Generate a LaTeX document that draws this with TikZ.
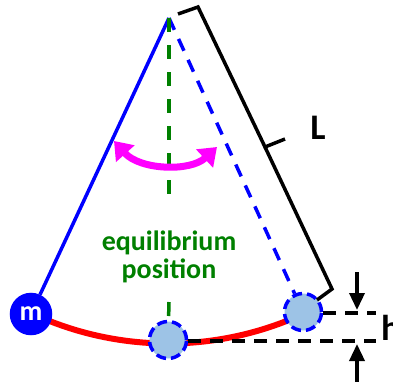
\documentclass[tikz,border=0pt]{standalone}
\usepackage{fontspec}
\setmainfont{Carlito}
\usetikzlibrary{arrows.meta}
\definecolor{eqgreen}{RGB}{0,128,0}
\definecolor{massfill}{RGB}{157,195,230}
\definecolor{mag}{RGB}{255,0,255}
\begin{document}
\begin{tikzpicture}[x=1pt,y=-1pt,
  massbase/.style={circle, minimum size=37pt, inner sep=0pt, line width=3.5pt},
  realmass/.style={massbase, minimum size=39pt, draw=blue, fill=blue, text=white, font=\bfseries\fontsize{28}{28}\selectfont},
  ghostmass/.style={massbase, draw=blue, fill=massfill, dash pattern=on 10pt off 5pt},
  string/.style={blue, line width=3.5pt},
  ghoststring/.style={blue, line width=3.5pt, dash pattern=on 13pt off 10pt},
  eqline/.style={eqgreen, line width=3.5pt, dash pattern=on 14pt off 13pt},
  bracket/.style={black, line width=3.5pt, line join=miter},
  hline/.style={black, line width=3.5pt, dash pattern=on 13pt off 9pt},
  harrow/.style={black, line width=3.5pt, -{Triangle[length=17pt,width=15pt]}},
  swing/.style={mag, line width=7pt, {Triangle[length=17pt,width=24pt]}-{Triangle[length=17pt,width=24pt]}},
  bigtext/.style={font=\bfseries\fontsize{36}{36}\selectfont},
]
\useasboundingbox (0,0) rectangle (393,381);
\clip (0,0) rectangle (393,381);

% pivot and key positions
\coordinate (pivot) at (169,18);
\coordinate (g1) at (169,205);
\coordinate (g2) at (169,302);

% red arc (drawn first, behind masses)
\draw[red, line width=6pt] (31,313) arc[start angle=115.1, end angle=64.5, radius=323];

% masses
\node[realmass] (m) at (31,314) {m};
\node[ghostmass] (bot) at (168,340) {};
\node[ghostmass] (rt) at (303,312) {};

% strings
\draw[string] (pivot) -- (m);
\draw[ghoststring] (pivot) -- (rt);

% equilibrium line and label
\draw[eqline] (pivot) -- (g1);
\draw[eqline] (g2) -- (bot);
\node[eqgreen, font=\bfseries\fontsize{28}{28}\selectfont, align=center] (eq) at (169,257) {equilibrium\\position};

% swing arrow
\coordinate (sw1) at (114,141);
\coordinate (sw2) at (217,147);
\draw[swing] (sw1) .. controls (140,170) and (190,172) .. (sw2);

% length bracket
\coordinate (T1) at (178,14);
\coordinate (T) at (198,7);
\coordinate (M) at (265,147);
\coordinate (Mt) at (285,139);
\coordinate (B) at (332,289);
\coordinate (B1) at (317,300);
\draw[bracket] (T1) -- (T) -- (M) -- (Mt);
\draw[bracket] (M) -- (B) -- (B1);
\node[bigtext] (L) at (318,128) {L};

% height marker
\coordinate (h1) at (376,313);
\coordinate (h2) at (376,341);
\draw[hline] (rt.east |- h1) -- (h1);
\draw[hline] (bot.east |- h2) -- (h2);
\coordinate (a1s) at (357,272);
\coordinate (a1e) at (357,310);
\coordinate (a2s) at (357,383);
\coordinate (a2e) at (357,344);
\draw[harrow] (a1s) -- (a1e);
\draw[harrow] (a2s) -- (a2e);
\node[bigtext, anchor=west, inner sep=0pt] (h) at (381,328) {h};
\end{tikzpicture}
\end{document}
